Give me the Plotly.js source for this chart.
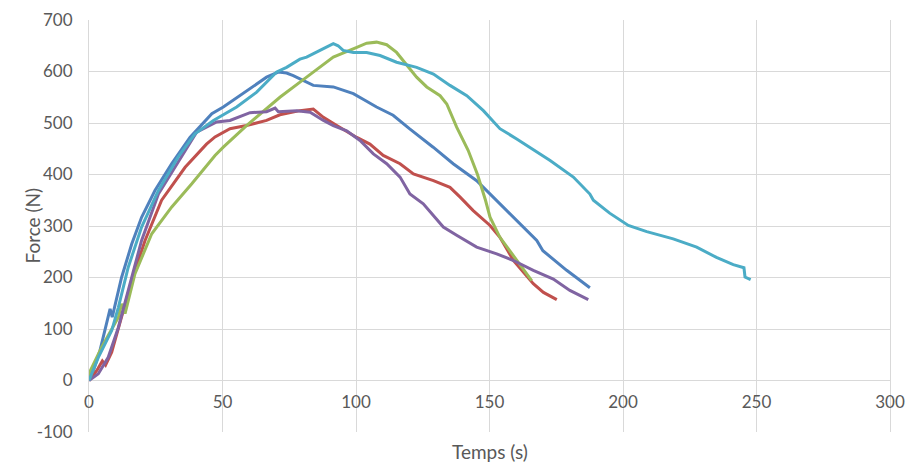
<!DOCTYPE html>
<html>
<head>
<meta charset="utf-8">
<script src="https://cdn.plot.ly/plotly-3.0.1.min.js"></script>
<style>html,body{margin:0;padding:0;background:#fff;}#chart{width:909px;height:465px;}</style>
</head>
<body>
<div id="chart"></div>
<script>
// Series 1 (blue)
const blueX = [0, 2, 4.1, 6, 7.9, 8.7, 10, 12.2, 16, 19.7, 24.7, 31, 37.8, 46, 50.3, 59, 66.5, 70.9, 74, 76.5, 79, 84, 91.5, 99, 103, 107.7, 113.9, 120, 128.9, 136.4, 145.2, 150.2, 159, 167.7, 170, 178.9, 187.6];
const blueY = [0, 25, 58, 100, 139, 123, 150, 200, 265, 317, 369, 421, 472, 518, 531, 563, 589, 599, 597, 592, 586, 573, 570, 557, 545, 531, 515, 489, 453, 421, 388, 362, 317, 272, 252, 214, 180];
// Series 2 (red)
const redX = [0, 3, 5, 6.2, 8.5, 12.2, 16, 21, 27.2, 36, 44, 47.2, 52.8, 59, 66.5, 71.5, 79, 84, 87.8, 92.8, 100.3, 105.2, 110.2, 116.5, 121.5, 129, 135.2, 139, 143.9, 150.2, 153.9, 159, 166.4, 170.2, 175.2];
const redY = [0, 20, 38, 30, 55, 123, 194, 272, 350, 414, 459, 473, 489, 495, 505, 516, 524, 527, 511, 495, 472, 459, 437, 421, 401, 388, 375, 356, 330, 301, 278, 233, 188, 171, 157];
// Series 3 (green)
const greenX = [0, 0.5, 4.8, 11, 12.2, 13.5, 17.2, 23.5, 31, 38.5, 47.2, 50.3, 59, 71.5, 81.5, 91.5, 100.3, 104, 107.7, 111.5, 115.2, 119, 122.7, 126.5, 131.5, 134, 137.7, 142, 145.5, 148.5, 150.2, 153.9, 160.2, 165.8];
const greenY = [5, 19, 65, 123, 149, 130, 207, 285, 337, 382, 437, 453, 495, 550, 589, 628, 647, 655, 657, 652, 637, 612, 589, 570, 553, 537, 492, 447, 400, 350, 317, 278, 233, 194];
// Series 4 (purple)
const purpleX = [0, 3.5, 7.2, 11, 14.7, 19.7, 26, 34.7, 40.3, 47.8, 52.8, 60.3, 66.5, 69.7, 70.9, 77.8, 82.8, 87.8, 91.5, 96.5, 101.5, 106.5, 111.5, 116.5, 120.2, 125.2, 132.7, 137.7, 145.2, 152.7, 159, 166.4, 173.9, 180.1, 187];
const purpleY = [0, 13, 45, 103, 175, 272, 362, 434, 482, 502, 505, 520, 522, 529, 522, 524, 521, 505, 495, 485, 466, 440, 421, 395, 362, 343, 298, 282, 259, 246, 233, 214, 197, 175, 157];
// Series 5 (cyan)
const cyanX = [0, 3.5, 8.5, 11, 14.7, 19.7, 26, 33.4, 39.7, 46.6, 55.3, 62.8, 70.3, 74, 79, 81.5, 86.5, 91.5, 93.3, 95.2, 99, 104, 109, 115.2, 122.7, 129, 135.2, 141.5, 147.7, 153.9, 160.2, 172.7, 181.4, 187.6, 188.9, 195, 202, 208.9, 218.8, 227.6, 235, 241.3, 245.3, 245.7, 247.8];
const cyanY = [0, 45, 97, 142, 220, 298, 369, 434, 479, 505, 531, 560, 599, 608, 624, 628, 641, 654, 650, 641, 637, 637, 631, 618, 608, 595, 573, 553, 524, 489, 469, 427, 395, 362, 350, 325, 301, 289, 275, 259, 239, 225, 219, 201, 196];

// Tick labels
const xTickVals = [0, 50, 100, 150, 200, 250, 300];
const xTickText = ['0', '50', '100', '150', '200', '250', '300'];
const yTickVals = [-100, 0, 100, 200, 300, 400, 500, 600, 700];
const yTickText = ['-100', '0', '100', '200', '300', '400', '500', '600', '700'];

const xTitle = 'Temps (s)';
const yTitle = 'Force (N)';

const FONT = 'Lato, "Open Sans", sans-serif';
const GREY = '#595959';
const GRID = '#d9d9d9';

function mk(x, y, color) {
  return {x: x, y: y, type: 'scatter', mode: 'lines', line: {color: color, width: 3}, hoverinfo: 'skip', showlegend: false};
}

const data = [
  mk(blueX, blueY, '#4F81BD'),
  mk(redX, redY, '#C0504D'),
  mk(greenX, greenY, '#9BBB59'),
  mk(purpleX, purpleY, '#8064A2'),
  mk(cyanX, cyanY, '#4BACC6')
];

const layout = {
  width: 909, height: 465,
  margin: {l: 89, r: 19, t: 20, b: 33},
  paper_bgcolor: '#fff', plot_bgcolor: '#fff',
  font: {family: FONT, size: 17, color: GREY},
  xaxis: {
    range: [0, 300], tickmode: 'array', tickvals: xTickVals, ticktext: xTickText,
    showgrid: true, gridcolor: GRID, gridwidth: 1,
    zeroline: false, showline: false, ticks: '',
    anchor: 'free', position: 0.125,
    ticklabelstandoff: 9,
    tickfont: {family: FONT, size: 17, color: GREY}
  },
  yaxis: {
    range: [-100, 700], tickmode: 'array', tickvals: yTickVals, ticktext: yTickText,
    showgrid: true, gridcolor: GRID, gridwidth: 1,
    zeroline: true, zerolinecolor: GRID, zerolinewidth: 1,
    showline: true, mirror: true, linecolor: GRID, linewidth: 1,
    ticks: '', ticklabelstandoff: 12,
    tickfont: {family: FONT, size: 17, color: GREY}
  },
  annotations: [
    {text: xTitle, xref: 'paper', yref: 'paper', x: 0.5, y: 0, yanchor: 'top', yshift: -6, showarrow: false, font: {family: FONT, size: 19, color: GREY}},
    {text: yTitle, xref: 'paper', yref: 'paper', x: -0.0886, y: 0.5, textangle: -90, showarrow: false, font: {family: FONT, size: 19, color: GREY}}
  ]
};

Plotly.newPlot('chart', data, layout, {displayModeBar: false, staticPlot: true});
</script>
</body>
</html>
